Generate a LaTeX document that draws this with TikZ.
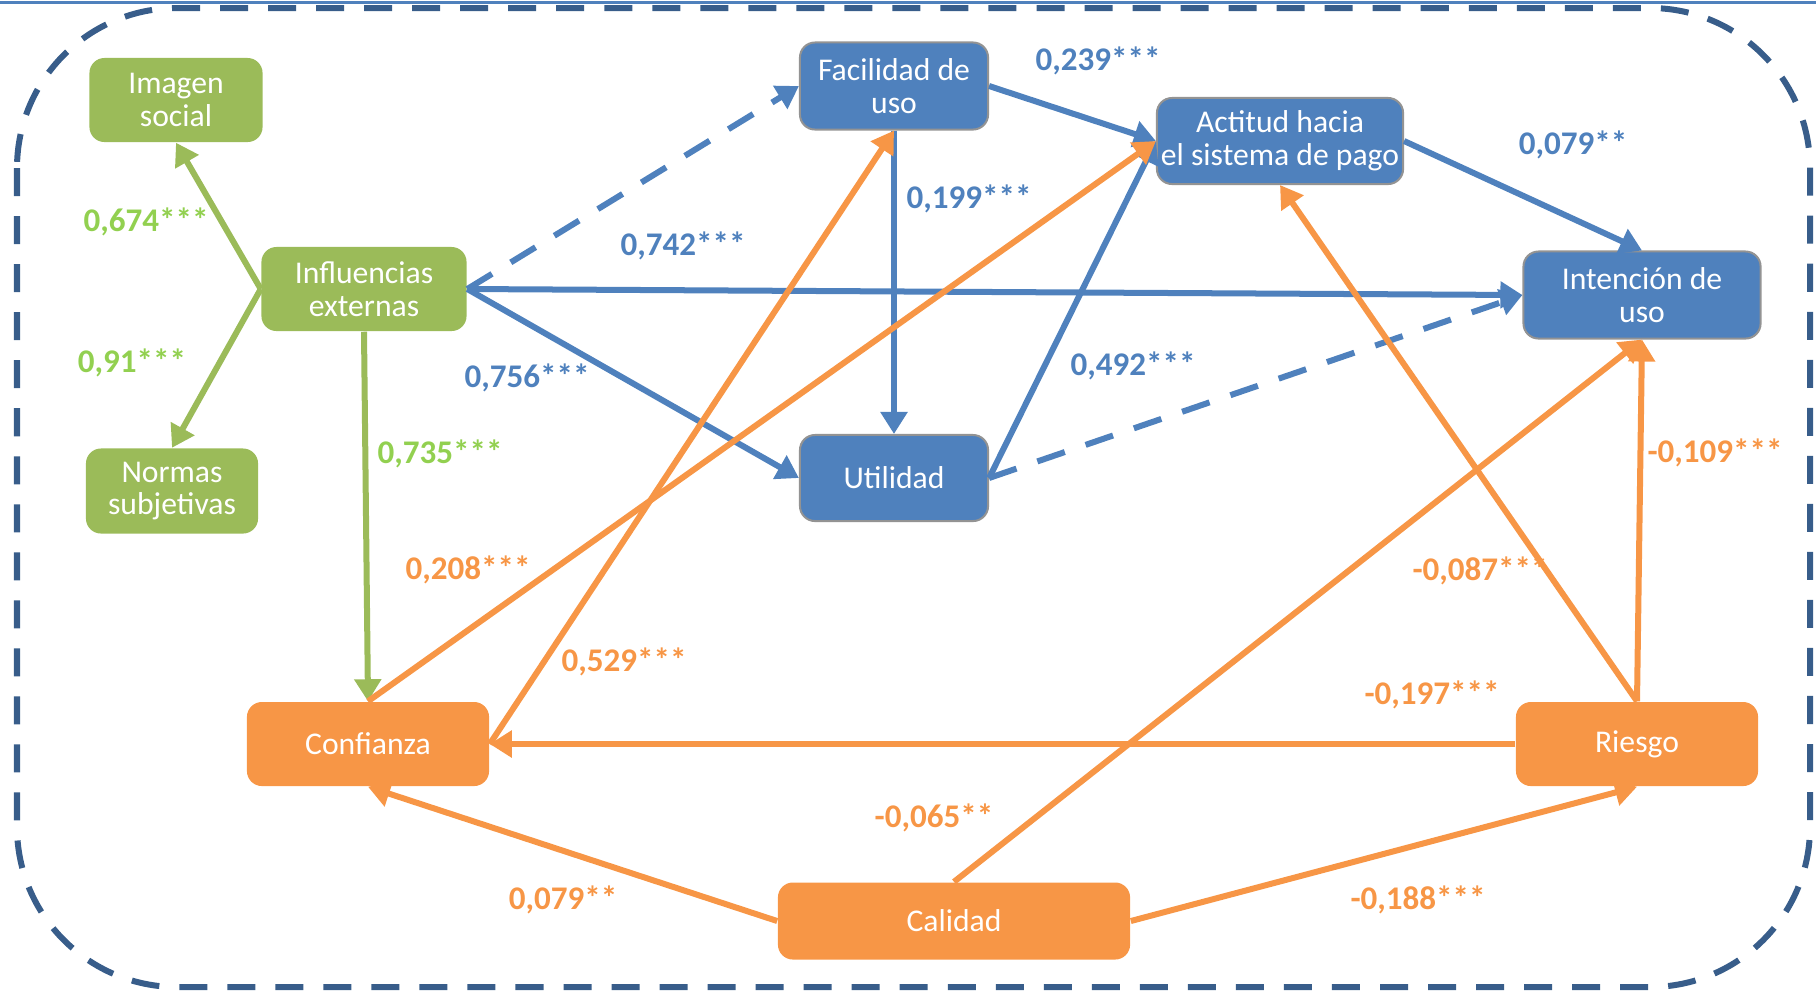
\documentclass[tikz,border=0pt]{standalone}
\usepackage{fontspec}
\setmainfont{Carlito}
\usepackage{xcolor}
\usepackage{tikz}
\usetikzlibrary{arrows.meta}

\definecolor{verde}{HTML}{9BBB59}
\definecolor{verdeclaro}{HTML}{92D050}
\definecolor{azul}{HTML}{4F81BD}
\definecolor{naranja}{HTML}{F79646}
\definecolor{marco}{HTML}{385D8A}

\begin{document}
\begin{tikzpicture}[x=0.01cm, y=-0.01cm,
  caja/.style={rounded corners=0.15cm, text=white, align=center, inner sep=0pt, font=\fontsize{9}{9.3}\selectfont},
  cverde/.style={caja, fill=verde},
  cazul/.style={caja, fill=azul, draw=gray!85, line width=0.02cm},
  cnaranja/.style={caja, fill=naranja},
  flecha/.style={line width=0.06cm, -{Triangle[length=0.22cm,width=0.26cm]}},
  punteada/.style={flecha, dash pattern=on 0.29cm off 0.22cm},
  coef/.style={font=\fontsize{9.4}{10}\selectfont\bfseries}]

\useasboundingbox (0,0) rectangle (1816,990);
\draw [azul, line width=0.03cm] (0,2) -- (1816,2);
\draw [marco, line width=0.06cm, dash pattern=on 0.28cm off 0.2cm, rounded corners=1.6cm] (17,8) rectangle (1810,987);

\node [cverde, minimum width=1.73cm, minimum height=0.84cm] (imagen) at (176,100) {Imagen\\social};
\node [cverde, minimum width=2.05cm, minimum height=0.84cm] (influencias) at (364,289) {Influencias\\externas};
\node [cverde, minimum width=1.72cm, minimum height=0.85cm] (normas) at (172,491) {Normas\\subjetivas};
\node [cazul, minimum width=1.88cm, minimum height=0.87cm] (facilidad) at (894,86) {Facilidad de\\uso};
\node [cazul, minimum width=2.46cm, minimum height=0.86cm] (actitud) at (1280,141) {Actitud hacia\\el sistema de pago};
\node [cazul, minimum width=2.37cm, minimum height=0.87cm] (intencion) at (1642,295) {Intención de\\uso};
\node [cazul, minimum width=1.88cm, minimum height=0.86cm] (utilidad) at (894,478) {Utilidad};
\node [cnaranja, minimum width=2.42cm, minimum height=0.84cm] (confianza) at (368,744) {Confianza};
\node [cnaranja, minimum width=2.42cm, minimum height=0.84cm] (riesgo) at (1637,744) {Riesgo};
\node [cnaranja, minimum width=3.52cm, minimum height=0.77cm] (calidad) at (954,921) {Calidad};

\node [coef, verdeclaro] (c-imagen) at (146,222) {0,674***};
\node [coef, verdeclaro] (c-normas) at (132,363) {0,91***};
\node [coef, verdeclaro] (c-confianza) at (440,454) {0,735***};
\node [coef, azul] (c-intencion) at (683,246) {0,742***};
\node [coef, azul] (c-utilidad) at (527,378) {0,756***};
\node [coef, azul] (c-facilidad) at (1098,61) {0,239***};
\node [coef, azul] (c-fu) at (969,199) {0,199***};
\node [coef, azul] (c-ua) at (1133,366) {0,492***};
\node [coef, azul] (c-ai) at (1573,145) {0,079**};
\node [coef, naranja] (c-ca) at (468,570) {0,208***};
\node [coef, naranja] (c-cf) at (624,662) {0,529***};
\node [coef, naranja] (c-ri) at (1715,453) {-0,109***};
\node [coef, naranja] (c-ra) at (1480,571) {-0,087***};
\node [coef, naranja] (c-rc) at (1432,695) {-0,197***};
\node [coef, naranja] (c-qi) at (934,818) {-0,065**};
\node [coef, naranja] (c-qc) at (563,900) {0,079**};
\node [coef, naranja] (c-qr) at (1418,900) {-0,188***};

\draw [flecha, verde] (influencias.west) -- (imagen.south);
\draw [flecha, verde] (influencias.west) -- (normas.north);
\draw [flecha, verde] (influencias.south) -- (confianza.north);

\draw [punteada, azul] (influencias.east) -- (facilidad.west);
\draw [flecha, azul] (influencias.east) -- (intencion.west);
\draw [flecha, azul] (influencias.east) -- (utilidad.west);
\draw [flecha, azul] (facilidad.east) -- (actitud.west);
\draw [flecha, azul] (facilidad.south) -- (utilidad.north);
\draw [flecha, azul] (utilidad.east) -- (actitud.west);
\draw [punteada, azul] (utilidad.east) -- (intencion.west);
\draw [flecha, azul] (actitud.east) -- (intencion.north);

\draw [flecha, naranja] (confianza.north) -- (actitud.west);
\draw [flecha, naranja] (confianza.east) -- (facilidad.south);
\draw [flecha, naranja] (riesgo.west) -- (confianza.east);
\draw [flecha, naranja] (riesgo.north) -- (actitud.south);
\draw [flecha, naranja] (riesgo.north) -- (intencion.south);
\draw [flecha, naranja] (calidad.west) -- (confianza.south);
\draw [flecha, naranja] (calidad.east) -- (riesgo.south);
\draw [flecha, naranja] (calidad.north) -- (intencion.south);

\end{tikzpicture}
\end{document}
